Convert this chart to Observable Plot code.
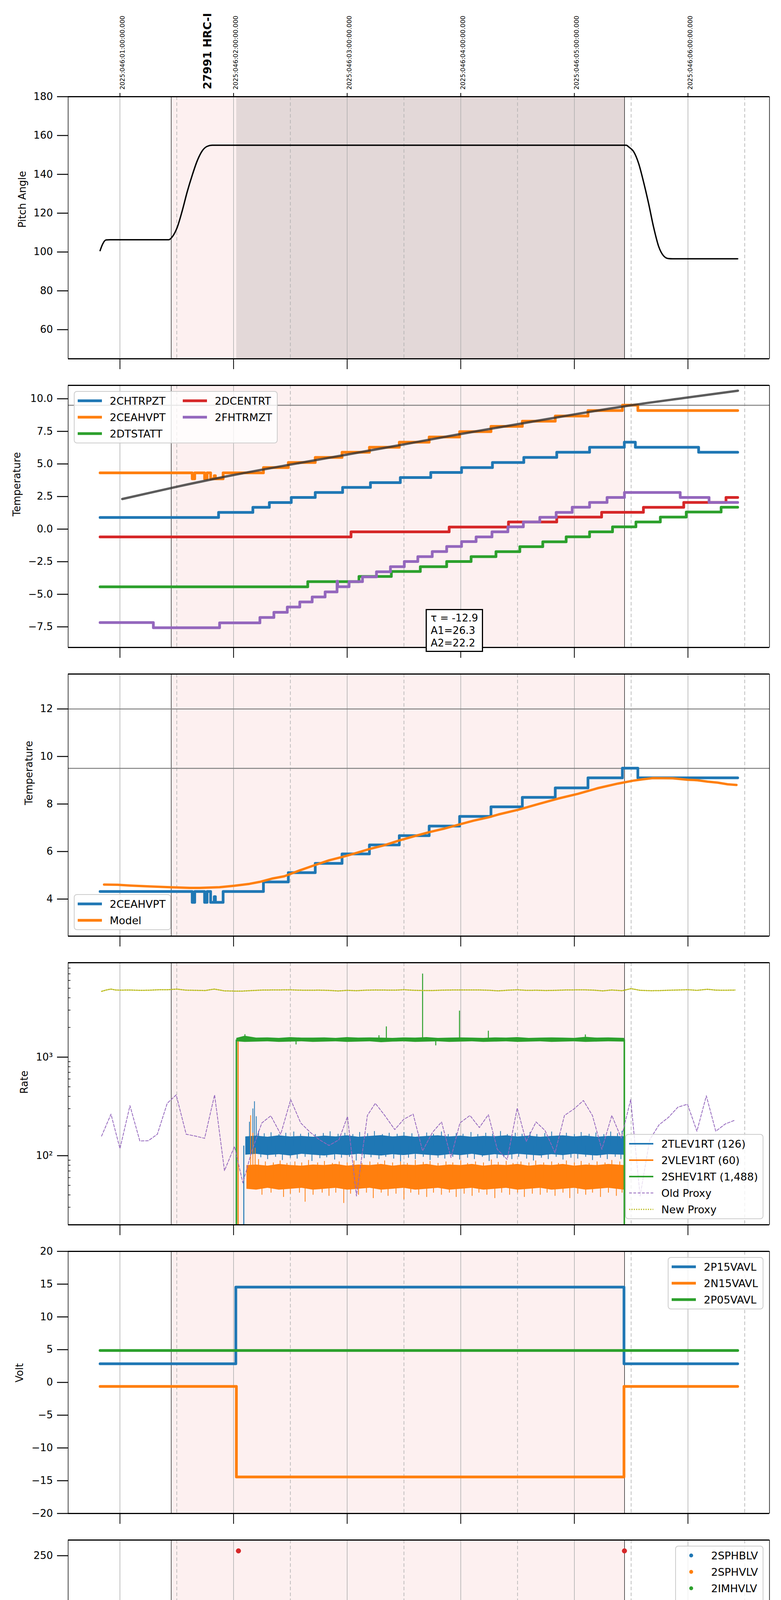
<!DOCTYPE html>
<html>
<head>
<meta charset="utf-8">
<script src="https://cdn.jsdelivr.net/npm/d3@7"></script>
<script src="https://cdn.jsdelivr.net/npm/@observablehq/plot@0.6"></script>
<style>
  html, body { margin: 0; padding: 0; background: #ffffff; overflow: hidden; }
  #root { position: relative; width: 2000px; height: 6200px; overflow: hidden; font-family: "DejaVu Sans", sans-serif; }
  .legend { position: absolute; box-sizing: border-box; background: rgba(255,255,255,0.8); border: 2px solid #cccccc; border-radius: 8px; padding: 2px 12px 2px 8px; font-size: 27px; color: #000; font-family: "DejaVu Sans", sans-serif; }
  .legend .grid { display: grid; grid-auto-flow: column; column-gap: 44px; }
  .legend .row { display: flex; align-items: center; height: 42px; white-space: nowrap; }
  .legend .row svg { flex: none; margin-right: 20px; }
  .note { position: absolute; box-sizing: border-box; background: #fff; border: 3px solid #000; font-size: 26px; line-height: 32px; padding: 4px 10px; font-family: "DejaVu Sans", sans-serif; white-space: nowrap; }
</style>
</head>
<body>
<div id="root"></div>
<script>
// ---------------- data ----------------
const X_DOMAIN = [19.5438, 25.7178];               // hours (local), 24 = 00h
const HOURS = [20, 21, 22, 23, 24, 25];
const HOUR_LABELS = ["20h", "21h", "22h", "23h", "00h", "01h"];
const HALF_HOURS = [20.5, 21.5, 22.5, 23.5, 24.5, 25.5];
const TOP_LABELS = ["2025:046:01:00:00.000", "2025:046:02:00:00.000", "2025:046:03:00:00.000",
                    "2025:046:04:00:00.000", "2025:046:05:00:00.000", "2025:046:06:00:00.000"];
const OBSID_LABEL = "27991 HRC-I";
const OBSID_TIME = 20.737;
const OBS_WINDOW = [20.4512, 24.442];
const SCI_WINDOW = [21.0254, 24.442];
const X_LABEL = "2025-02-15 (046)";

// Panel 1: pitch
const PITCH = [[19.825,100.7],[19.847,104],[19.877,106.2],[19.912,106.3],[20.43,106.3],[20.46,107.8],[20.504,112.7],[20.548,121.2],[20.592,131],[20.636,139.5],[20.679,146.8],[20.723,152],[20.767,154.4],[20.811,155],[24.457,155],[24.479,154.1],[24.522,151.7],[24.566,145.6],[24.61,135.9],[24.654,124.9],[24.698,112.7],[24.742,102.9],[24.786,98],[24.829,96.6],[24.864,96.5],[25.438,96.5]];

// Panel 2: temperatures (step series)
const CHTRPZT = [[19.825,0.89],[20.868,1.28],[21.17,1.67],[21.315,2.04],[21.508,2.43],[21.719,2.81],[21.96,3.2],[22.205,3.57],[22.468,3.96],[22.736,4.35],[23.007,4.72],[23.279,5.11],[23.555,5.5],[23.845,5.9],[24.134,6.28],[24.44,6.67],[24.537,6.28],[25.094,5.9],[25.438,5.9]];
const CEAHVPT = [[19.825,4.32],[20.636,3.86],[20.658,4.32],[20.745,3.86],[20.767,4.32],[20.798,3.86],[20.83,4.1],[20.84,3.86],[20.908,4.32],[21.263,4.72],[21.482,5.11],[21.719,5.5],[21.955,5.9],[22.196,6.28],[22.459,6.67],[22.722,7.07],[22.99,7.48],[23.266,7.88],[23.542,8.28],[23.832,8.68],[24.12,9.1],[24.423,9.51],[24.559,9.1],[25.438,9.1]];
const DTSTATT = [[19.825,-4.43],[21.653,-4.03],[22.104,-3.63],[22.389,-3.25],[22.644,-2.88],[22.876,-2.49],[23.091,-2.11],[23.31,-1.73],[23.52,-1.35],[23.722,-0.97],[23.928,-0.59],[24.134,-0.21],[24.336,0.17],[24.542,0.55],[24.757,0.92],[24.985,1.31],[25.292,1.68],[25.438,1.68]];
const DCENTRT = [[19.825,-0.6],[22.034,-0.21],[22.898,0.16],[23.42,0.55],[23.845,0.92],[24.24,1.29],[24.608,1.67],[24.963,2.05],[25.335,2.43],[25.438,2.43]];
const FHTRMZT = [[19.825,-7.17],[20.294,-7.57],[20.877,-7.19],[21.232,-6.78],[21.355,-6.38],[21.473,-5.98],[21.583,-5.59],[21.692,-5.21],[21.806,-4.82],[21.911,-4.0],[21.916,-4.42],[22.017,-4.03],[22.135,-3.66],[22.258,-3.27],[22.381,-2.88],[22.503,-2.49],[22.622,-2.11],[22.749,-1.72],[22.876,-1.33],[23.007,-0.96],[23.135,-0.6],[23.275,-0.21],[23.415,0.17],[23.551,0.55],[23.696,0.91],[23.84,1.28],[23.981,1.68],[24.134,2.05],[24.288,2.43],[24.441,2.81],[24.932,2.43],[25.186,2.05],[25.438,2.05]];
const FIT_P2 = [[20.02,2.31],[20.5,3.25],[21.0,4.15],[21.5,4.95],[22.0,5.72],[22.5,6.5],[23.0,7.3],[23.5,8.05],[24.0,8.8],[24.5,9.5],[25.0,10.1],[25.44,10.62]];
const LIMITS_P2 = [9.5];
const FIT_TEXT = ["τ = -12.9", "A1=26.3", "A2=22.2"];

// Panel 3: model
const MODEL_P3 = [[19.86,4.61],[19.978,4.6],[20.088,4.57],[20.263,4.53],[20.438,4.5],[20.614,4.47],[20.701,4.47],[20.877,4.5],[21.008,4.56],[21.14,4.64],[21.228,4.72],[21.337,4.86],[21.447,4.96],[21.578,5.2],[21.71,5.42],[21.841,5.63],[21.973,5.79],[22.06,5.91],[22.192,6.1],[22.324,6.26],[22.455,6.46],[22.587,6.64],[22.718,6.81],[22.85,6.96],[22.981,7.13],[23.113,7.3],[23.244,7.44],[23.332,7.56],[23.507,7.76],[23.683,8.0],[23.858,8.23],[24.033,8.43],[24.209,8.67],[24.384,8.86],[24.516,8.98],[24.603,9.04],[24.691,9.09],[24.866,9.08],[24.998,9.02],[25.085,9.0],[25.173,8.94],[25.261,8.9],[25.349,8.83],[25.427,8.8]];
const LIMITS_P3 = [12, 9.5];

// Panel 4: rates (medians from legend)
const MED_TLEV = 126, MED_VLEV = 60, MED_SHEV = 1488;
const TLEV_BAND = [[21.105,102,156],[21.2,104,159],[21.3,101,155],[21.4,103,160],[21.5,100,156],[21.6,104,158],[21.7,102,155],[21.8,100,159],[21.9,103,156],[22.0,101,160],[22.1,104,155],[22.2,102,158],[22.3,100,161],[22.4,103,156],[22.5,101,159],[22.6,104,155],[22.7,102,158],[22.8,100,160],[22.9,103,156],[23.0,101,159],[23.1,104,155],[23.2,100,158],[23.3,103,157],[23.4,101,160],[23.5,104,156],[23.6,102,159],[23.7,100,155],[23.8,103,158],[23.9,101,160],[24.0,104,156],[24.1,102,159],[24.2,100,155],[24.3,103,158],[24.438,102,157]];
const TLEV_SPIKES = [[21.14,220],[21.17,300],[21.184,355],[21.2,250],[21.22,178],[21.27,168],[21.33,172],[21.4,165],[21.46,170],[21.53,175],[21.59,166],[21.66,171],[21.72,165],[21.79,169],[21.85,176],[21.92,166],[21.98,170],[22.05,165],[22.11,173],[22.18,168],[22.24,177],[22.31,165],[22.37,170],[22.44,166],[22.5,173],[22.57,168],[22.63,165],[22.7,171],[22.76,166],[22.83,175],[22.89,165],[22.96,169],[23.02,166],[23.09,173],[23.15,165],[23.22,170],[23.28,166],[23.35,177],[23.41,165],[23.48,170],[23.54,166],[23.61,173],[23.67,165],[23.74,169],[23.8,175],[23.87,166],[23.93,170],[24.0,165],[24.06,173],[24.13,166],[24.19,171],[24.26,165],[24.32,175],[24.38,168],[24.42,178],
  [21.24,96],[21.3,92],[21.37,97],[21.43,90],[21.5,95],[21.56,93],[21.63,97],[21.69,88],[21.76,94],[21.82,96],[21.89,91],[21.95,95],[22.02,97],[22.08,89],[22.15,94],[22.21,96],[22.28,92],[22.34,97],[22.41,93],[22.47,87],[22.54,95],[22.6,92],[22.67,97],[22.73,90],[22.8,95],[22.86,93],[22.93,97],[22.99,91],[23.06,95],[23.12,92],[23.19,97],[23.25,88],[23.32,94],[23.38,96],[23.45,92],[23.51,97],[23.58,93],[23.64,89],[23.71,95],[23.77,92],[23.84,97],[23.9,91],[23.97,95],[24.03,93],[24.1,97],[24.16,90],[24.23,95],[24.29,92],[24.36,97],[24.41,92]];
const TLEV_START = [[21.09,126]];
const VLEV_BAND = [[21.115,46,80],[21.2,45,81],[21.3,47,79],[21.4,45,82],[21.5,46,80],[21.6,47,79],[21.7,45,81],[21.8,46,80],[21.9,47,82],[22.0,45,79],[22.1,46,81],[22.2,47,80],[22.3,45,82],[22.4,46,79],[22.5,47,81],[22.6,45,80],[22.7,46,82],[22.8,47,79],[22.9,45,81],[23.0,46,80],[23.1,47,82],[23.2,45,79],[23.3,46,81],[23.4,47,80],[23.5,45,82],[23.6,46,79],[23.7,47,81],[23.8,45,80],[23.9,46,82],[24.0,47,79],[24.1,45,81],[24.2,46,80],[24.3,47,82],[24.438,45,80]];
const VLEV_SPIKES = [[21.15,256],[21.17,170],[21.19,120],[21.22,92],[21.28,87],[21.35,85],[21.41,89],[21.47,84],[21.54,87],[21.6,85],[21.66,90],[21.74,85],[21.8,88],[21.87,84],[21.93,87],[22.0,85],[22.06,89],[22.13,84],[22.2,87],[22.27,85],[22.33,89],[22.4,85],[22.47,87],[22.53,84],[22.6,90],[22.67,86],[22.73,88],[22.8,84],[22.87,87],[22.93,85],[23.0,89],[23.06,84],[23.13,87],[23.2,85],[23.27,91],[23.33,86],[23.4,88],[23.46,84],[23.53,87],[23.6,85],[23.66,89],[23.73,85],[23.8,87],[23.86,84],[23.93,89],[24.0,85],[24.06,88],[24.13,84],[24.2,87],[24.27,85],[24.33,90],[24.4,87],
  [21.25,40],[21.33,42],[21.44,38],[21.5,41],[21.58,42],[21.63,34],[21.7,40],[21.78,42],[21.84,39],[21.9,42],[21.97,33],[22.03,41],[22.1,40],[22.17,42],[22.23,37],[22.3,42],[22.36,39],[22.43,41],[22.5,36],[22.56,42],[22.63,40],[22.7,38],[22.76,42],[22.83,40],[22.9,42],[22.96,38],[23.03,41],[23.1,39],[23.16,42],[23.23,40],[23.3,37],[23.36,42],[23.43,40],[23.5,42],[23.56,38],[23.63,41],[23.7,40],[23.76,42],[23.83,39],[23.9,42],[23.96,37],[24.03,41],[24.1,40],[24.16,42],[24.23,38],[24.3,42],[24.37,39],[24.42,42]];
const VLEV_START = [[21.04,1450]];
const SHEV_BAND = [[21.026,1440,1560],[21.1,1420,1640],[21.2,1430,1570],[21.3,1440,1580],[21.4,1420,1560],[21.5,1430,1590],[21.6,1440,1570],[21.7,1420,1570],[21.8,1430,1580],[21.9,1440,1560],[22.0,1420,1590],[22.1,1430,1570],[22.2,1440,1580],[22.3,1410,1570],[22.4,1430,1560],[22.5,1440,1580],[22.6,1420,1570],[22.7,1430,1590],[22.8,1440,1560],[22.9,1420,1570],[23.0,1430,1580],[23.1,1440,1570],[23.2,1420,1560],[23.3,1430,1580],[23.4,1440,1570],[23.5,1420,1590],[23.6,1430,1560],[23.7,1440,1570],[23.8,1420,1580],[23.9,1430,1570],[24.0,1440,1560],[24.1,1420,1600],[24.2,1430,1570],[24.3,1440,1580],[24.44,1430,1560]];
const SHEV_SPIKES = [[21.1,1700],[21.55,1340],[22.28,1660],[22.345,2040],[22.664,7010],[22.78,1310],[22.989,2950],[23.243,1845],[24.097,1690]];
const SHEV_EDGES = [[21.025,1500],[24.44,1500]];
const OLD_PROXY = [[19.838,158],[19.921,264],[20.0,118],[20.088,322],[20.175,141],[20.25,142],[20.329,165],[20.416,340],[20.495,414],[20.583,165],[20.666,158],[20.745,150],[20.833,414],[20.92,70.5],[21.008,124],[21.082,53],[21.161,112],[21.249,215],[21.328,254],[21.415,165],[21.503,371],[21.591,215],[21.674,173],[21.757,145],[21.84,127],[21.928,145],[22.003,250],[22.082,39],[22.178,256],[22.248,340],[22.331,256],[22.419,184],[22.498,234],[22.581,264],[22.664,112],[22.752,173],[22.831,220],[22.914,95.7],[22.993,215],[23.081,256],[23.164,193],[23.243,261],[23.322,116],[23.409,91.6],[23.497,305],[23.576,139],[23.663,220],[23.742,180],[23.83,107],[23.913,256],[23.997,298],[24.08,363],[24.159,256],[24.242,116],[24.33,256],[24.413,151],[24.496,371],[24.579,39],[24.663,145],[24.746,206],[24.829,245],[24.912,311],[24.996,333],[25.079,177],[25.162,405],[25.245,177],[25.329,210],[25.412,229]];
const NEW_PROXY = [[19.838,4650],[19.88,4800],[19.92,4900],[19.96,4800],[20.0,4780],[20.08,4800],[20.17,4760],[20.25,4770],[20.33,4820],[20.42,4830],[20.5,4900],[20.58,4780],[20.67,4760],[20.75,4740],[20.83,4900],[20.92,4700],[21.0,4680],[21.08,4680],[21.17,4740],[21.25,4790],[21.33,4800],[21.42,4810],[21.5,4820],[21.58,4780],[21.67,4770],[21.75,4780],[21.83,4760],[21.92,4690],[22.0,4760],[22.08,4720],[22.17,4780],[22.25,4800],[22.33,4790],[22.42,4780],[22.5,4830],[22.58,4770],[22.67,4740],[22.75,4740],[22.83,4780],[22.92,4800],[23.0,4800],[23.08,4800],[23.17,4800],[23.25,4770],[23.33,4700],[23.42,4780],[23.5,4820],[23.58,4760],[23.67,4770],[23.75,4740],[23.83,4760],[23.92,4800],[24.0,4810],[24.08,4820],[24.17,4780],[24.25,4700],[24.33,4800],[24.42,4720],[24.5,4950],[24.58,4760],[24.67,4720],[24.75,4730],[24.83,4770],[24.92,4800],[25.0,4830],[25.08,4760],[25.17,4880],[25.25,4780],[25.33,4770],[25.414,4790]];
const RATE_MAJOR = [100, 1000];
const RATE_MAJOR_LABELS = ["10²", "10³"];
const RATE_MINOR = [20,30,40,50,60,70,80,90,200,300,400,500,600,700,800,900,2000,3000,4000,5000,6000,7000,8000,9000];

// Panel 5: voltages
const P15VAVL = [[19.825,2.84],[21.02,14.55],[24.437,2.84],[25.438,2.84]];
const N15VAVL = [[19.825,-0.61],[21.025,-14.43],[24.437,-0.61],[25.438,-0.61]];
const P05VAVL = [[19.825,4.87],[25.438,4.87]];

// Panel 6: HV monitors
const HV_SPHBLV = [];
const HV_SPHVLV = [];
const HV_IMHVLV_BAND = [[21.105,78.8],[24.445,78.8]];
const HV_IMHVLV_PTS = [[21.056,99],[21.061,95.3],[21.07,90],[21.087,85.8],[21.096,82],[21.105,79],[22.986,126.6],[23.051,126.6],[23.56,126.6],[23.595,126.6],[23.507,31.9]];
const HV_IMHBLV_BAND = [[21.096,85.4],[24.445,85.4]];
const HV_IMHBLV_PTS = [[21.043,254.9],[21.056,126.6],[21.056,119],[21.061,105.7],[21.07,101],[21.078,97],[21.087,92.4],[21.096,89.6],[23.507,126.6],[22.986,78.8],[23.051,78.8],[23.56,78.8],[23.595,78.8],[24.441,254.9]];

// Panel 7: detector temps
const SPINATM = [[21.026,0.8],[21.429,1.26],[22.235,1.72],[22.84,2.2],[23.396,2.68],[23.405,-10],[23.41,2.68],[23.506,-10],[23.51,2.68],[23.55,-10],[23.555,2.68],[23.585,-10],[23.59,2.68],[23.922,3.15],[24.426,3.6],[24.436,3.6]];
const SPHVATM = [[21.026,12.28],[21.556,12.62],[21.863,12.96],[22.135,13.29],[22.384,13.62],[22.638,13.95],[22.879,14.29],[23.118,-10],[23.122,14.29],[23.164,14.62],[23.344,14.97],[23.409,9.3],[23.413,14.97],[23.506,-10],[23.51,14.97],[23.55,9.6],[23.555,14.97],[23.585,9.6],[23.59,14.97],[23.595,15.3],[23.826,15.64],[24.075,16.0],[24.317,16.33],[24.43,16.33]];
const IMINATM = [[21.026,-0.53],[21.359,-0.1],[22.52,0.36],[23.118,-10],[23.122,0.36],[23.322,0.82],[23.405,2.7],[23.41,0.82],[23.506,-10],[23.51,0.82],[23.528,2.7],[23.533,0.82],[23.593,2.7],[23.598,0.82],[23.966,1.27],[24.43,1.27]];
const IMHVATM = [[21.0255,-10],[21.027,11.6],[21.188,11.96],[21.297,12.3],[21.402,12.63],[21.507,12.96],[21.621,13.29],[21.655,12.85],[21.66,13.29],[21.744,13.62],[21.884,13.96],[22.029,14.29],[22.169,14.62],[22.362,14.97],[22.555,15.3],[22.752,15.64],[22.927,16.0],[23.164,16.33],[23.383,16.65],[23.405,9.6],[23.41,16.65],[23.495,9.6],[23.525,16.65],[23.55,9.6],[23.555,16.65],[23.59,9.6],[23.595,17.04],[23.834,17.4],[24.075,17.76],[24.338,18.1],[24.435,-10],[24.44,-10]];
const BLOCKS_P7 = {SPINATM: [22.927,23.166,-10,2.2], SPHVATM: [22.927,23.166,8.6,14.29], IMINATM: [22.927,23.166,0.36,2.2], IMHVATM: [22.927,23.166,14.2,16.0]};

// Panel 8: FEA temps
const FRADPYT = [[21.026,-7.8],[21.503,-7.17],[21.613,-6.77],[21.731,-6.38],[21.849,-5.98],[21.972,-5.59],[22.086,-5.19],[22.213,-4.8],[22.336,-4.42],[22.467,-4.03],[22.594,-3.65],[22.73,-3.25],[22.862,-2.88],[23.002,-2.48],[23.142,-2.12],[23.287,-1.72],[23.427,-1.35],[23.58,-0.96],[23.725,-0.6],[23.887,-0.22],[24.045,0.16],[24.207,0.53],[24.382,0.91],[24.68,0.53],[24.82,0.16],[24.965,-0.22],[25.114,-0.6],[25.28,-0.98],[25.438,-0.98]];
const FEPRATM = [[21.026,-7.9],[21.061,-7.24],[21.104,-6.86],[21.148,-6.44],[21.201,-6.01],[21.266,-5.62],[21.345,-5.2],[21.433,-4.79],[21.525,-4.37],[21.63,-3.95],[21.744,-3.53],[21.862,-3.11],[21.981,-2.69],[22.099,-2.26],[22.231,-1.83],[22.362,-1.41],[22.498,-0.96],[22.634,-0.52],[22.783,-0.09],[22.927,-6.1],[22.931,0.36],[22.984,-6.1],[22.988,0.36],[23.045,-6.1],[23.049,0.36],[23.111,-6.1],[23.115,0.36],[23.16,-6.1],[23.164,0.82],[23.23,1.27],[23.396,1.73],[23.409,-6.1],[23.413,1.73],[23.541,-6.1],[23.545,1.73],[23.571,2.21],[23.593,-6.1],[23.597,2.21],[23.725,2.68],[23.9,3.16],[24.084,3.64],[24.264,4.1],[24.43,4.1]];
const FE00ATM = [[21.026,-8],[21.271,-7.46],[21.359,-7.12],[21.438,-6.74],[21.521,-6.41],[21.6,-6.05],[21.696,-5.69],[21.775,-5.35],[21.867,-5.0],[21.955,-4.66],[22.03,-5.55],[22.035,-4.66],[22.042,-4.31],[22.13,-3.97],[22.218,-3.63],[22.26,-4.0],[22.265,-3.63],[22.31,-4.4],[22.315,-3.63],[22.328,-3.28],[22.433,-2.95],[22.52,-2.61],[22.621,-2.27],[22.726,-1.93],[22.835,-1.6],[22.927,-1.35],[22.972,-10],[22.976,-1.35],[23.12,-10],[23.124,-1.35],[23.164,-0.61],[23.265,-0.3],[23.357,0.06],[23.409,5],[23.413,0.06],[23.462,5],[23.466,0.38],[23.506,-10],[23.51,5],[23.514,0.38],[23.541,5],[23.545,0.38],[23.593,5],[23.597,0.68],[23.694,1.02],[23.813,1.36],[23.931,1.67],[23.944,2.5],[23.948,1.67],[24.04,1.98],[24.084,1.3],[24.088,1.98],[24.155,2.31],[24.282,2.64],[24.418,5],[24.425,3.0],[24.438,-10],[24.445,-10]];
const BLOCKS_P8 = {FE00ATM: [22.927,23.166,-1.35,10]};

// ---------------- styling ----------------
const C = {blue:"#1f77b4", orange:"#ff7f0e", green:"#2ca02c", red:"#d62728", purple:"#9467bd", olive:"#bcbd22"};
const PINK = "#fdf0f0", DARK = "#e3d8d8", GRID = "#b0b0b0";
const FRAME_TOPS = [247, 986, 1725, 2464, 3203, 3942, 4681, 5420];
const FRAME_H = 671;
const root = document.getElementById("root");

const px = d => d[0], py = d => d[1];

function panel(o) {
  const mt = o.mt ?? 20, mb = o.mb ?? 60;
  const yd = o.yDomain;
  const marks = [
    Plot.rect([OBS_WINDOW], {x1: d => d[0], x2: d => d[1], fill: PINK}),
    ...(o.dark ? [Plot.rect([SCI_WINDOW], {x1: d => d[0], x2: d => d[1], fill: DARK})] : []),
    Plot.ruleX(HOURS, {stroke: GRID, strokeWidth: 1.6}),
    Plot.ruleX(HALF_HOURS, {stroke: GRID, strokeWidth: 1.6, strokeDasharray: "9,6"}),
    Plot.ruleX(OBS_WINDOW, {stroke: "black", strokeWidth: 1.2}),
    ...(o.limits ? [Plot.ruleY(o.limits, {stroke: "#808080", strokeWidth: 2.5})] : []),
    ...o.marks,
    Plot.ruleX([X_DOMAIN[0], X_DOMAIN[1]], {stroke: "black", strokeWidth: 1.5}),
    Plot.ruleY([yd[0], yd[1]], {stroke: "black", strokeWidth: 3}),
    Plot.axisY({ticks: o.yTicks, tickFormat: o.yTickFormat, tickSize: 28, tickPadding: 11, fontSize: 26, strokeWidth: 2.5, label: null}),
    o.bottomLabels
      ? Plot.axisX({anchor: "bottom", ticks: HOURS, tickSize: 27, tickFormat: d => HOUR_LABELS[HOURS.indexOf(d)], tickPadding: 17, fontSize: 28, strokeWidth: 2, label: null})
      : Plot.axisX({anchor: "bottom", ticks: HOURS, tickSize: 27, fill: "none", strokeWidth: 2, label: null}),
    Plot.text([o.yLabel], {frameAnchor: "left", dx: o.yLabelX - 174, rotate: -90, fontSize: 26}),
    ...(o.extra || [])
  ];
  const chart = Plot.plot({
    width: 2000, height: FRAME_H + mt + mb,
    marginLeft: 174, marginRight: 30, marginTop: mt, marginBottom: mb,
    x: {domain: X_DOMAIN, axis: null},
    y: {domain: yd, type: o.yType || "linear", axis: null},
    style: {background: "transparent", overflow: "visible", fontFamily: "DejaVu Sans, sans-serif", color: "black", maxWidth: "none"},
    marks
  });
  chart.style.position = "absolute";
  chart.style.left = "0px";
  chart.style.top = (o.top - mt) + "px";
  root.appendChild(chart);
}

function stepLine(data, color, w = 7) {
  return Plot.line(data, {x: px, y: py, curve: "step-after", stroke: color, strokeWidth: w, clip: true});
}
function block(b, color) {
  return Plot.rect([b], {x1: d => d[0], x2: d => d[1], y1: d => d[2], y2: d => d[3], fill: color, clip: true});
}

function legend(o) {
  const div = document.createElement("div");
  div.className = "legend";
  div.style.top = o.top + "px";
  if (o.left != null) div.style.left = o.left + "px";
  if (o.right != null) div.style.right = o.right + "px";
  const grid = document.createElement("div");
  grid.className = "grid";
  grid.style.gridTemplateRows = `repeat(${o.rows || o.items.length}, 42px)`;
  for (const it of o.items) {
    const row = document.createElement("div");
    row.className = "row";
    let sw;
    if (it.dot) {
      sw = `<svg width="62" height="20"><circle cx="31" cy="10" r="5" fill="${it.color}"/></svg>`;
    } else {
      sw = `<svg width="62" height="20"><line x1="0" x2="62" y1="10" y2="10" stroke="${it.color}" stroke-width="${it.w || 7}" ${it.dash ? `stroke-dasharray="${it.dash}"` : ""}/></svg>`;
    }
    row.innerHTML = sw + `<span>${it.label}</span>`;
    grid.appendChild(row);
  }
  div.appendChild(grid);
  root.appendChild(div);
}

// ---------------- Panel 1 ----------------
panel({
  top: FRAME_TOPS[0], mt: 247, yDomain: [45, 180], dark: true,
  yTicks: [60, 80, 100, 120, 140, 160, 180], yTickFormat: d3.format("d"),
  yLabel: "Pitch Angle", yLabelX: 57,
  marks: [Plot.line(PITCH, {x: px, y: py, curve: "monotone-x", stroke: "black", strokeWidth: 3.5})],
  extra: [
    Plot.axisX({anchor: "top", ticks: HOURS, tickSize: 10, fill: "none", strokeWidth: 2, label: null}),
    Plot.text(HOURS, {x: d => d, text: (d, i) => TOP_LABELS[i], frameAnchor: "top", dy: -18, rotate: -90, textAnchor: "start", fontSize: 16}),
    Plot.text([OBSID_LABEL], {x: () => OBSID_TIME, frameAnchor: "top", dy: -19, rotate: -90, textAnchor: "start", fontSize: 28, fontWeight: "bold"})
  ]
});

// ---------------- Panel 2 ----------------
panel({
  top: FRAME_TOPS[1], yDomain: [-9.08, 11.03], limits: LIMITS_P2,
  yTicks: [-7.5, -5, -2.5, 0, 2.5, 5, 7.5, 10], yTickFormat: d3.format(".1f"),
  yLabel: "Temperature", yLabelX: 43,
  marks: [
    stepLine(CHTRPZT, C.blue), stepLine(CEAHVPT, C.orange), stepLine(DTSTATT, C.green),
    stepLine(DCENTRT, C.red), stepLine(FHTRMZT, C.purple),
    Plot.line(FIT_P2, {x: px, y: py, curve: "monotone-x", stroke: "#333333", strokeOpacity: 0.8, strokeWidth: 6})
  ]
});
legend({top: 1001, left: 189, rows: 3, items: [
  {label: "2CHTRPZT", color: C.blue}, {label: "2CEAHVPT", color: C.orange}, {label: "2DTSTATT", color: C.green},
  {label: "2DCENTRT", color: C.red}, {label: "2FHTRMZT", color: C.purple}]});
{
  const note = document.createElement("div");
  note.className = "note";
  note.style.left = "1090px"; note.style.top = "1559px";
  note.innerHTML = FIT_TEXT.join("<br>");
  root.appendChild(note);
}

// ---------------- Panel 3 ----------------
panel({
  top: FRAME_TOPS[2], yDomain: [2.44, 13.47], limits: LIMITS_P3,
  yTicks: [4, 6, 8, 10, 12], yTickFormat: d3.format("d"),
  yLabel: "Temperature", yLabelX: 74,
  marks: [
    stepLine(CEAHVPT, C.blue),
    Plot.line(MODEL_P3, {x: px, y: py, stroke: C.orange, strokeWidth: 6})
  ]
});
legend({top: 2289, left: 189, items: [{label: "2CEAHVPT", color: C.blue}, {label: "Model", color: C.orange}]});

// ---------------- Panel 4 ----------------
const Y4 = [19.9, 9080];
panel({
  top: FRAME_TOPS[3], yDomain: Y4, yType: "log",
  yTicks: RATE_MAJOR, yTickFormat: d => RATE_MAJOR_LABELS[RATE_MAJOR.indexOf(d)],
  yLabel: "Rate", yLabelX: 62,
  marks: [
    Plot.ruleY(RATE_MINOR, {x1: () => X_DOMAIN[0], x2: () => X_DOMAIN[0] + 0.022, stroke: "black", strokeWidth: 1.5}),
    Plot.ruleX(TLEV_START, {x: px, y1: () => Y4[0], y2: py, stroke: C.blue, strokeWidth: 2.5, clip: true}),
    Plot.areaY(TLEV_BAND, {x: d => d[0], y1: d => d[1], y2: d => d[2], fill: C.blue, clip: true}),
    Plot.ruleX(TLEV_SPIKES, {x: px, y1: () => MED_TLEV, y2: py, stroke: C.blue, strokeWidth: 2, clip: true}),
    Plot.ruleX(VLEV_START, {x: px, y1: () => Y4[0], y2: py, stroke: C.orange, strokeWidth: 3, clip: true}),
    Plot.areaY(VLEV_BAND, {x: d => d[0], y1: d => d[1], y2: d => d[2], fill: C.orange, clip: true}),
    Plot.ruleX(VLEV_SPIKES, {x: px, y1: () => MED_VLEV, y2: py, stroke: C.orange, strokeWidth: 2, clip: true}),
    Plot.ruleX(SHEV_EDGES, {x: px, y1: () => Y4[0], y2: py, stroke: C.green, strokeWidth: 4, clip: true}),
    Plot.areaY(SHEV_BAND, {x: d => d[0], y1: d => d[1], y2: d => d[2], fill: C.green, clip: true}),
    Plot.ruleX(SHEV_SPIKES, {x: px, y1: () => MED_SHEV, y2: py, stroke: C.green, strokeWidth: 2.5, clip: true}),
    Plot.line(OLD_PROXY, {x: px, y: py, stroke: C.purple, strokeWidth: 2, strokeDasharray: "7,4", clip: true}),
    Plot.line(NEW_PROXY, {x: px, y: py, stroke: C.olive, strokeWidth: 3, strokeDasharray: "3,3", clip: true})
  ]
});
legend({top: 2903, right: 45, items: [
  {label: "2TLEV1RT (126)", color: C.blue, w: 4}, {label: "2VLEV1RT (60)", color: C.orange, w: 4},
  {label: "2SHEV1RT (1,488)", color: C.green, w: 4}, {label: "Old Proxy", color: C.purple, w: 2, dash: "7,4"},
  {label: "New Proxy", color: C.olive, w: 3, dash: "3,3"}]});

// ---------------- Panel 5 ----------------
panel({
  top: FRAME_TOPS[4], yDomain: [-20, 20],
  yTicks: [-20, -15, -10, -5, 0, 5, 10, 15, 20], yTickFormat: d3.format("d"),
  yLabel: "Volt", yLabelX: 50,
  marks: [stepLine(P15VAVL, C.blue), stepLine(N15VAVL, C.orange), stepLine(P05VAVL, C.green)]
});
legend({top: 3218, right: 45, items: [{label: "2P15VAVL", color: C.blue}, {label: "2N15VAVL", color: C.orange}, {label: "2P05VAVL", color: C.green}]});

// ---------------- Panel 6 ----------------
panel({
  top: FRAME_TOPS[5], yDomain: [0, 265.9],
  yTicks: [0, 50, 100, 150, 200, 250], yTickFormat: d3.format("d"),
  yLabel: "HV Monitor", yLabelX: 54,
  marks: [
    Plot.dot(HV_SPHBLV, {x: px, y: py, r: 6.5, fill: C.blue}),
    Plot.dot(HV_SPHVLV, {x: px, y: py, r: 6.5, fill: C.orange}),
    Plot.line(HV_IMHVLV_BAND, {x: px, y: py, stroke: C.green, strokeWidth: 13, strokeLinecap: "round"}),
    Plot.dot(HV_IMHVLV_PTS, {x: px, y: py, r: 6.5, fill: C.green}),
    Plot.line(HV_IMHBLV_BAND, {x: px, y: py, stroke: C.red, strokeWidth: 13, strokeLinecap: "round"}),
    Plot.dot(HV_IMHBLV_PTS, {x: px, y: py, r: 6.5, fill: C.red})
  ]
});
legend({top: 3957, right: 45, items: [
  {label: "2SPHBLV", color: C.blue, dot: true}, {label: "2SPHVLV", color: C.orange, dot: true},
  {label: "2IMHVLV", color: C.green, dot: true}, {label: "2IMHBLV", color: C.red, dot: true}]});

// ---------------- Panel 7 ----------------
panel({
  top: FRAME_TOPS[6], yDomain: [-1.57, 18.19],
  yTicks: [0, 2.5, 5, 7.5, 10, 12.5, 15, 17.5], yTickFormat: d3.format(".1f"),
  yLabel: "Detector Temp", yLabelX: 47,
  marks: [
    stepLine(SPINATM, C.blue), block(BLOCKS_P7.SPINATM, C.blue),
    stepLine(SPHVATM, C.orange), block(BLOCKS_P7.SPHVATM, C.orange),
    stepLine(IMINATM, C.green), block(BLOCKS_P7.IMINATM, C.green),
    stepLine(IMHVATM, C.red), block(BLOCKS_P7.IMHVATM, C.red)
  ]
});
legend({top: 4695, right: 45, items: [{label: "2SPINATM", color: C.blue}, {label: "2SPHVATM", color: C.orange}, {label: "2IMINATM", color: C.green}, {label: "2IMHVATM", color: C.red}]});

// ---------------- Panel 8 ----------------
panel({
  top: FRAME_TOPS[7], mb: 105, yDomain: [-7.49, 3.70], bottomLabels: true,
  yTicks: [-6, -4, -2, 0, 2], yTickFormat: d3.format("d"),
  yLabel: "FEA Temp", yLabelX: 67,
  marks: [
    stepLine(FHTRMZT, C.blue), stepLine(FRADPYT, C.orange), stepLine(FEPRATM, C.green),
    stepLine(FE00ATM, C.red), block(BLOCKS_P8.FE00ATM, C.red)
  ],
  extra: [
    Plot.axisX({anchor: "bottom", ticks: HALF_HOURS, tickSize: 6, tickPadding: 6, tickFormat: () => "30", fontSize: 18, strokeWidth: 1.5, label: null}),
    Plot.text([X_LABEL], {frameAnchor: "bottom", dy: 90, fontSize: 30})
  ]
});
legend({top: 5901, right: 45, items: [{label: "2FHTRMZT", color: C.blue}, {label: "2FRADPYT", color: C.orange}, {label: "2FEPRATM", color: C.green}, {label: "2FE00ATM", color: C.red}]});
</script>
</body>
</html>
